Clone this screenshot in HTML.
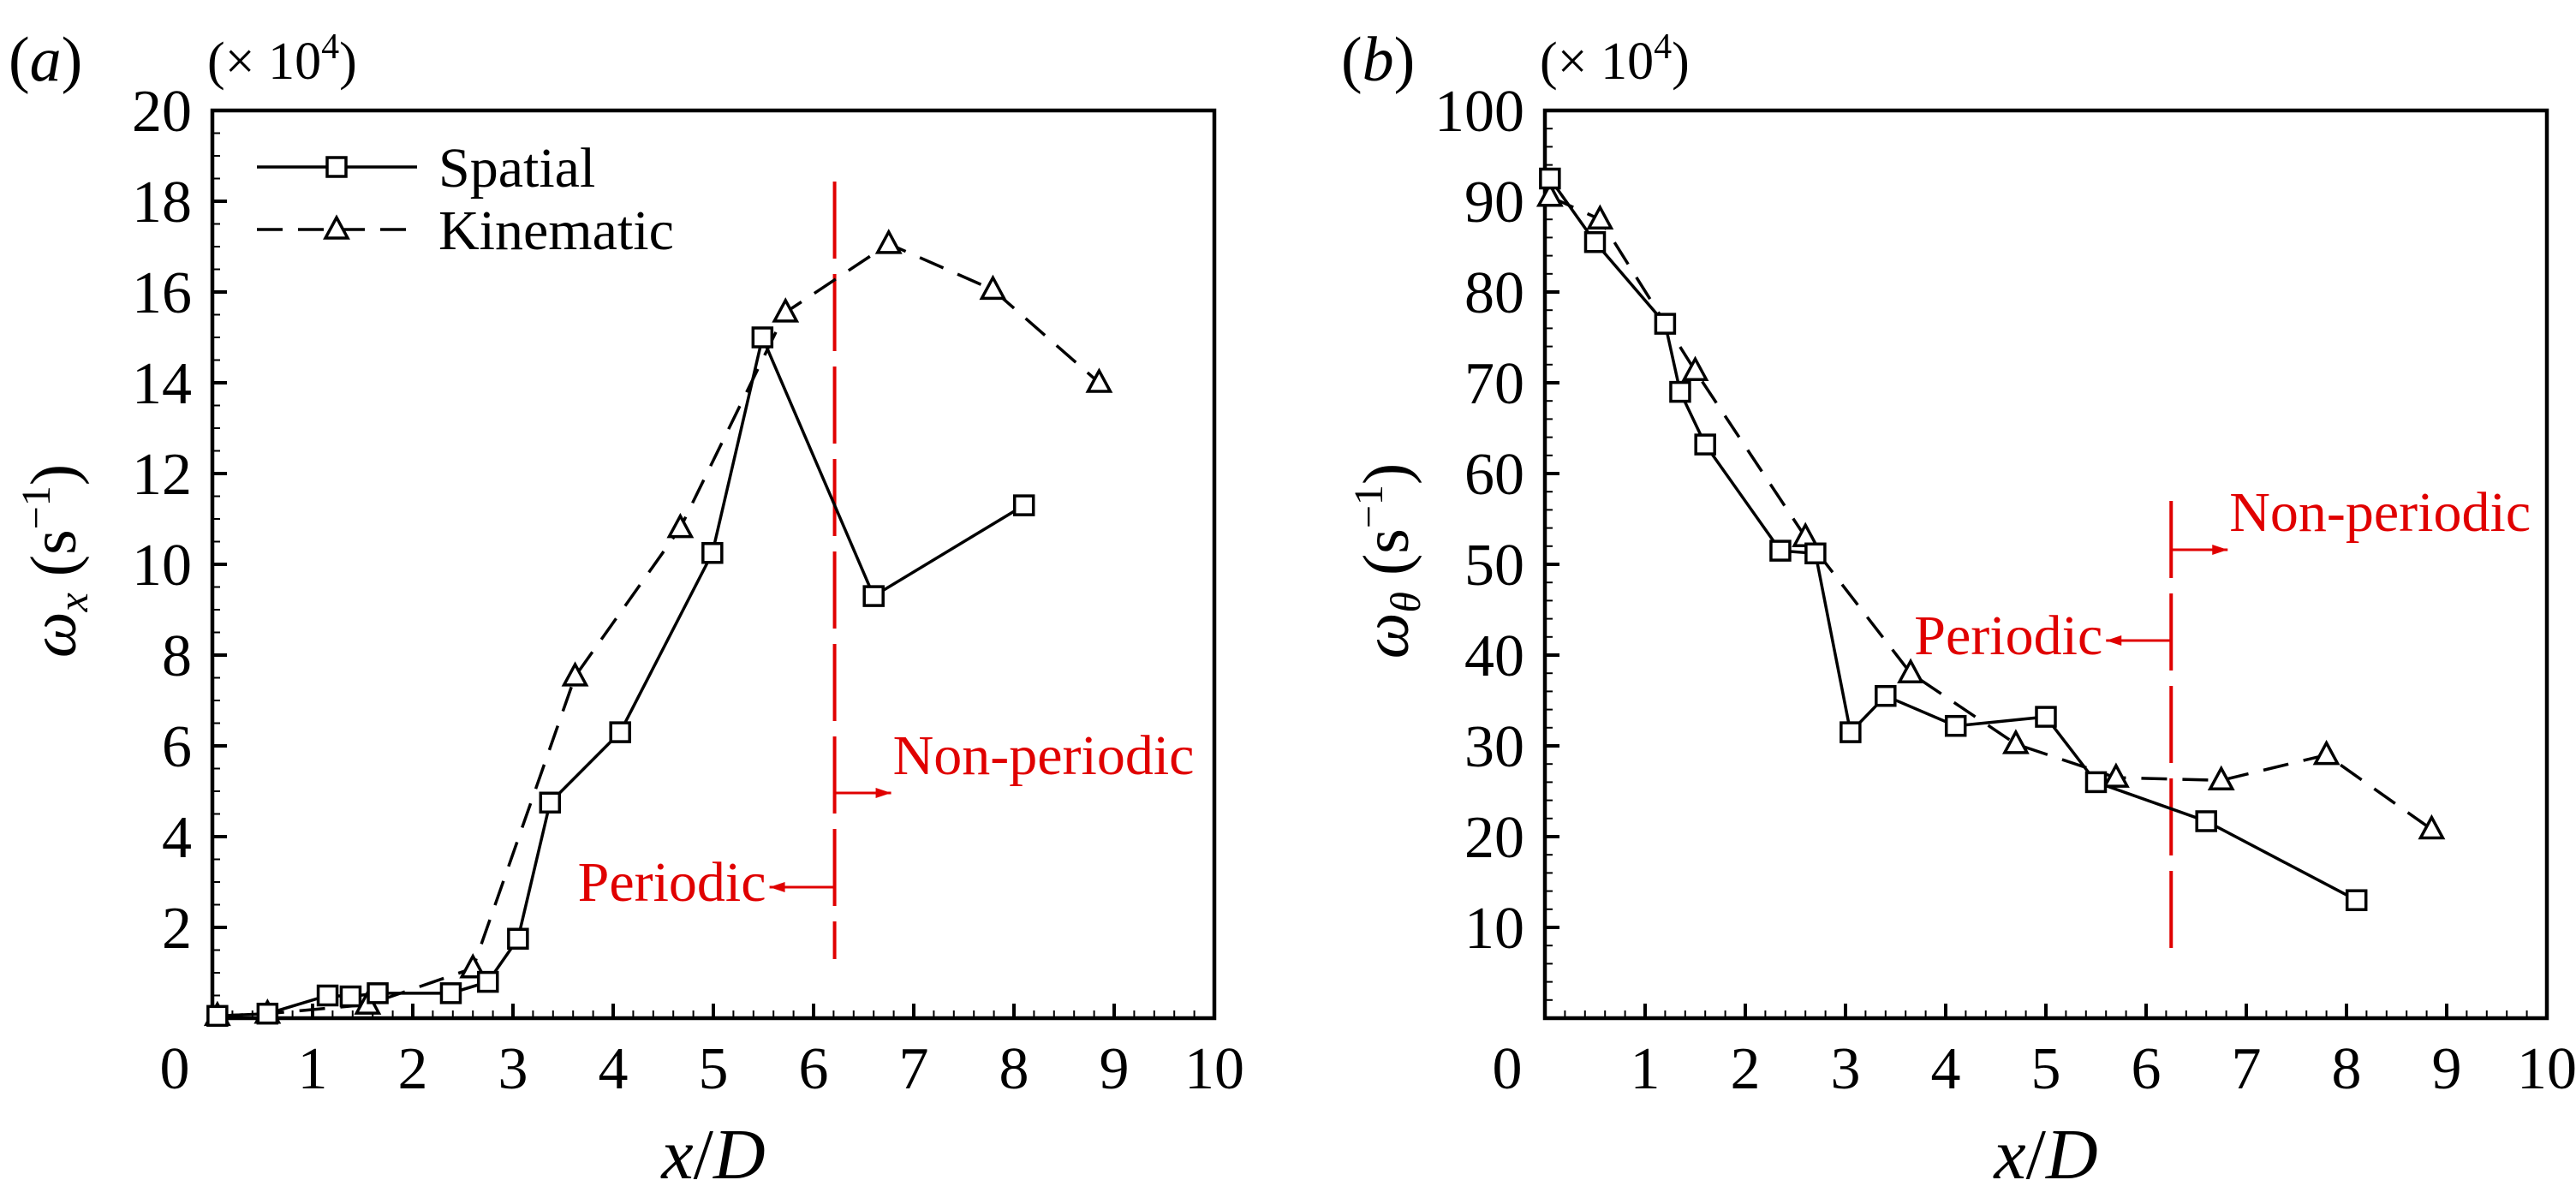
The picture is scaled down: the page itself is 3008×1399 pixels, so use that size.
<!DOCTYPE html>
<html><head><meta charset="utf-8"><style>
html,body{margin:0;padding:0;background:#fff;}
svg{display:block;font-family:"Liberation Serif",serif;}
</style></head><body>
<svg id="fig" width="3008" height="1399" viewBox="0 0 3008 1399" xmlns="http://www.w3.org/2000/svg" font-family="Liberation Serif, serif"></svg>
<script>
// Panel (a) data
const aSpatialX = [0.05,0.55,1.15,1.38,1.65,2.38,2.75,3.05,3.37,4.07,4.99,5.49,6.6,8.1];
const aSpatialY = [0.05,0.1,0.5,0.48,0.55,0.55,0.8,1.75,4.75,6.3,10.25,15.0,9.3,11.3];
const aKinX = [0.05,0.55,1.55,2.6,3.62,4.67,5.72,6.75,7.79,8.85];
const aKinY = [0.05,0.1,0.3,1.1,7.53,10.8,15.55,17.06,16.05,14.0];
const aYTicks = [2,4,6,8,10,12,14,16,18,20];
// Panel (b) data
const bSpatialX = [0.05,0.5,1.2,1.35,1.6,2.35,2.7,3.05,3.4,4.1,5.0,5.5,6.6,8.1];
const bSpatialY = [92.5,85.5,76.5,69,63.2,51.5,51.2,31.5,35.5,32.2,33.2,26,21.7,13];
const bKinX = [0.05,0.55,1.5,2.6,3.65,4.7,5.7,6.75,7.8,8.85];
const bKinY = [90.5,88,71.3,53,38,30.2,26.5,26.2,29,20.8];
const bYTicks = [10,20,30,40,50,60,70,80,90,100];
const xTicks = [0,1,2,3,4,5,6,7,8,9,10];
const boundaryX = [6.21, 6.25];

const NS="http://www.w3.org/2000/svg";
const svg=document.getElementById('fig');
function mk(tag,attrs,parent){const e=document.createElementNS(NS,tag);for(const k in attrs)e.setAttribute(k,attrs[k]);(parent||svg).appendChild(e);return e;}

function panel(p){
  const g=mk('g',{});
  
  
  const L=p.left,R=p.left+1170,T=129,B=1189;
  const sx=v=>L+v*117;
  const sy=v=>B-(v/p.ymax)*(B-T);
  for(let i=0;i<=50;i++){const x=L+i*23.4;const maj=i%5===0;
    const t=mk('line',{x1:x,x2:x,y1:B,y2:B-(maj?17:9),stroke:'#000','stroke-width':maj?4:2},g);
    
    
  }
  const nMinor=p.minor;
  for(let i=0;i<=nMinor;i++){const y=B-i*(B-T)/nMinor;const maj=i%p.majEvery===0;
    const t=mk('line',{x1:L,x2:L+(maj?17:9),y1:y,y2:y,stroke:'#000','stroke-width':maj?4:2},g);
    
    
  }
  const fr=mk('rect',{x:L,y:T,width:R-L,height:B-T,fill:'none',stroke:'#000','stroke-width':4.5},g);
  
  
  xTicks.forEach(v=>{const t=mk('text',{x:v===0?L-44:sx(v),y:1271,'font-size':70,'text-anchor':'middle'},g);t.textContent=v;
    
    });
  p.yTicks.forEach(v=>{const t=mk('text',{x:L-24,y:sy(v)+24,'font-size':70,'text-anchor':'end'},g);t.textContent=v;
    
    });
  const bx=sx(p.bx);
  const bl=mk('line',{x1:bx,x2:bx,y1:p.redTop,y2:p.redBot,stroke:'#e00000','stroke-width':4,'stroke-dasharray':'90,18'},g);
  
  
  function series(xs,ys,dash,marker,name){
    const pts=xs.map((x,i)=>sx(x)+','+sy(ys[i])).join(' ');
    const pl=mk('polyline',{points:pts,fill:'none',stroke:'#000','stroke-width':3.5,'stroke-dasharray':dash},g);
    
    
    xs.forEach((x,i)=>{const cx=sx(x),cy=sy(ys[i]);let m;
      if(marker==='sq') m=mk('rect',{x:cx-11,y:cy-11,width:22,height:22,fill:'#fff',stroke:'#000','stroke-width':3.5},g);
      else m=mk('polygon',{points:`${cx},${cy-14} ${cx-13},${cy+10} ${cx+13},${cy+10}`,fill:'#fff',stroke:'#000','stroke-width':3.5},g);
      
      
    });
  }
  series(p.kx,p.ky,'30,18','tri','kinematic');
  series(p.sx,p.sy,'none','sq','spatial');
  function txt(x,y,s,size,extra,name){const t=mk('text',Object.assign({x:x,y:y,'font-size':size},extra||{}),g);t.textContent=s;
    
    return t;}
  function arrow(x1,x2,y,name){const a=mk('g',{},g);
    
    
    mk('line',{x1:x1,x2:x2,y1:y,y2:y,stroke:'#e00000','stroke-width':3},a);
    const d=x2>x1?-1:1;
    mk('polygon',{points:`${x2},${y} ${x2+d*18},${y-6} ${x2+d*18},${y+6}`,fill:'#e00000'},a);}
  txt(bx+68,p.npY,'Non-periodic',66,{fill:'#e00000'},'non-periodic-label');
  arrow(bx,bx+66,p.npY+22,'non-periodic-arrow');
  txt(bx-80,p.pY,'Periodic',66,{fill:'#e00000','text-anchor':'end'},'periodic-label');
  arrow(bx,bx-76,p.pY-16,'periodic-arrow');
  txt(p.left-238,94,'',74,{},p.tag+'-panel-label').innerHTML='(<tspan font-style="italic">'+p.tag+'</tspan>)';
  txt(p.left-6,92,'',62,{},'multiplier-label').innerHTML='(× 10<tspan font-size="42" dy="-24">4</tspan><tspan dy="24">)</tspan>';
  const xl=txt(p.left+585,1376,'',84,{'text-anchor':'middle','font-style':'italic'},'x-axis-title');
  xl.innerHTML='x<tspan font-style="normal">/</tspan>D';
  const yl=txt(0,0,'',76,{'text-anchor':'middle',transform:`translate(${p.left-160},655) rotate(-90)`},'y-axis-title');
  yl.innerHTML='<tspan font-style="italic">ω</tspan><tspan font-style="italic" font-size="50" dy="14">'+p.sub+'</tspan><tspan dy="-14"> (s</tspan><tspan font-size="48" dy="-30">−1</tspan><tspan dy="30">)</tspan>';
  return g;
}
panel({name:'panel-a',tag:'a',left:248,ymax:20,minor:40,majEvery:4,yTicks:aYTicks,
  sx:aSpatialX,sy:aSpatialY,kx:aKinX,ky:aKinY,bx:boundaryX[0],redTop:212,redBot:1120,
  npY:904,pY:1052,sub:'x'});
panel({name:'panel-b',tag:'b',left:1804,ymax:100,minor:50,majEvery:5,yTicks:bYTicks,
  sx:bSpatialX,sy:bSpatialY,kx:bKinX,ky:bKinY,bx:boundaryX[1],redTop:585,redBot:1118,
  npY:620,pY:764,sub:'θ'});
const lg=mk('g',{});


mk('line',{x1:300,x2:487,y1:195,y2:195,stroke:'#000','stroke-width':3.5},lg);
mk('rect',{x:382,y:184,width:22,height:22,fill:'#fff',stroke:'#000','stroke-width':3.5},lg);
mk('line',{x1:300,x2:487,y1:268,y2:268,stroke:'#000','stroke-width':3.5,'stroke-dasharray':'30,18'},lg);
mk('polygon',{points:'393,254 380,278 406,278',fill:'#fff',stroke:'#000','stroke-width':3.5},lg);
const t1=mk('text',{x:512,y:218,'font-size':66},lg);t1.textContent='Spatial';


const t2=mk('text',{x:512,y:291,'font-size':66},lg);t2.textContent='Kinematic';


</script>
</body></html>
